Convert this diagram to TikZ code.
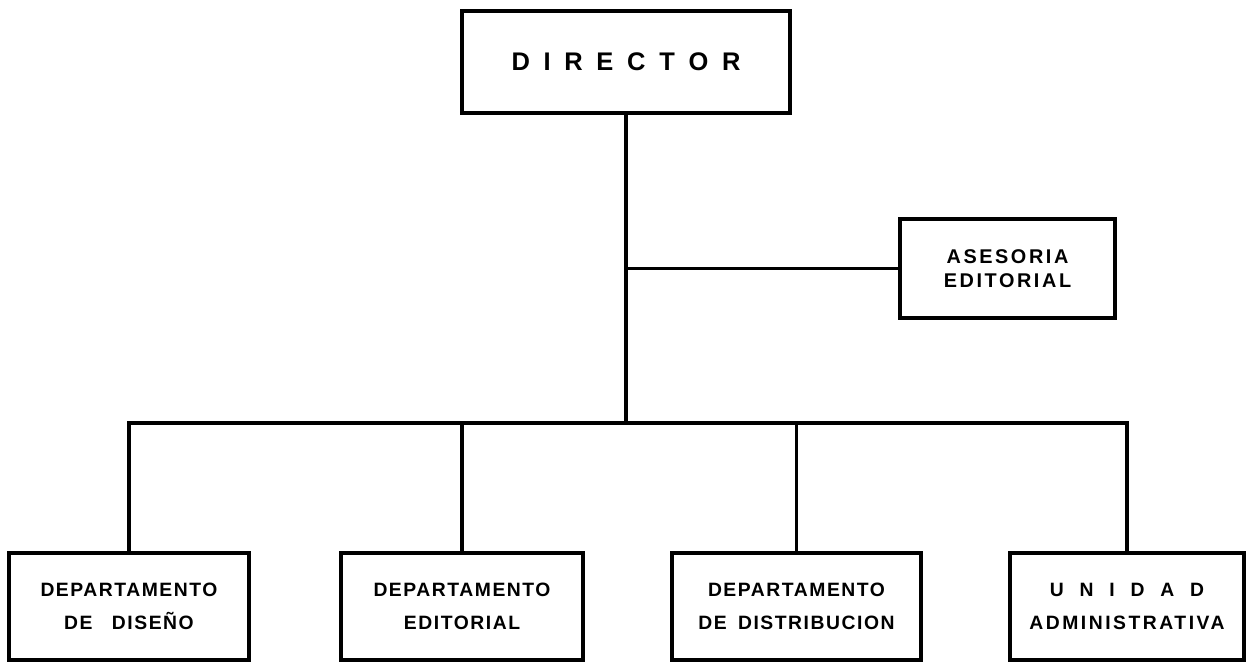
\documentclass[tikz,border=0pt]{standalone}
\usepackage{fontspec}
\setmainfont{Liberation Sans}
\newfontfamily\lettering[LetterSpace=8]{Liberation Sans}
\newfontfamily\widelettering[LetterSpace=13]{Liberation Sans}
\tikzstyle{box}=[draw, rectangle, line width=1.8pt, align=center, inner sep=0pt]
\tikzstyle{unit}=[box, minimum height=2.14cm, font={\lettering\bfseries\fontsize{11}{18.7}\selectfont\spaceskip 6.4pt\relax}]
\tikzset{link/.style={line width=1.8pt}}
\tikzset{y=-0.02cm}
\tikzset{x=0.02cm}

\begin{document}
\begin{tikzpicture}
  \useasboundingbox (0,0) rectangle (1247,663);

  \draw (626,62) node[box,minimum width=6.56cm,minimum height=2.04cm,font=\lettering\bfseries\fontsize{14.5}{18}\selectfont] (DIR) {\spaceskip 7.8pt\relax D I R E C T O R};
  \draw (1007.5,268.5) node[box,minimum width=4.3cm,minimum height=1.98cm,font=\widelettering\bfseries\fontsize{11.3}{13.6}\selectfont] (ASE) {ASESORIA\\EDITORIAL};

  \draw (129,606.5) node[unit,minimum width=4.8cm] (DDI) {DEPARTAMENTO\\DE\quad DISEÑO};
  \draw (462,606.5) node[unit,minimum width=4.84cm] (DED) {DEPARTAMENTO\\EDITORIAL};
  \draw (796.5,606.5) node[unit,minimum width=4.98cm] (DDS) {DEPARTAMENTO\\DE DISTRIBUCION};
  \draw (1127,606.5) node[unit,minimum width=4.68cm] (UAD) {{\spaceskip 9pt\relax U N I D A D}\\{\widelettering ADMINISTRATIVA}};

  %% Junctions
  \coordinate (J1) at (626,268.5);
  \coordinate (J2) at (626,423);

  \draw[link] (DIR.south) -- (J2);
  \draw[link] (J1) -- (ASE.west);
  \draw[link] (DDI.north) |- (J2) -| (UAD.north);
  \draw[link] (DED.north) -- (DED.north |- J2);
  \draw[link] (DDS.north) -- (DDS.north |- J2);
\end{tikzpicture}
\end{document}
